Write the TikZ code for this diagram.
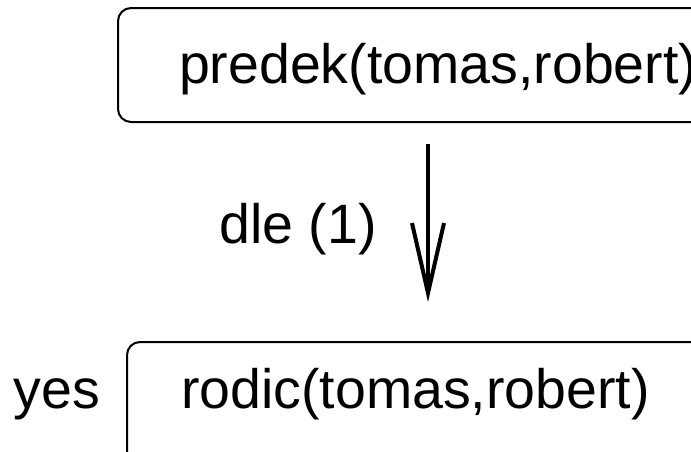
\documentclass[tikz,border=0pt]{standalone}
\usepackage{fontspec}
\setmainfont{Liberation Sans}
\usetikzlibrary{arrows.meta}

\begin{document}
\begin{tikzpicture}[x=1pt,y=-1pt,
    goal/.style={draw,line width=2pt,rounded corners=13pt,
                 inner ysep=0pt,anchor=west},
    big/.style={font=\fontsize{55.5}{60}\selectfont}]
  \useasboundingbox (0,0) rectangle (691,451);
  \clip (0,0) rectangle (691,451);

  %% goals of the proof
  \node (TOP) at (117,65) [goal,big,minimum height=114pt,inner xsep=61pt,
                           text height=44pt,text depth=8pt] {predek(tomas,robert)};
  \node (BOT) at (126,404) [goal,big,minimum height=124pt,inner xsep=54pt,
                            text height=40pt,text depth=32pt] {rodic(tomas,robert)};
  \node (YES) at ([xshift=-26pt]BOT.base west) [anchor=base east,inner sep=0pt,big] {yes};

  %% step by clause (1)
  \coordinate (FROM) at (428,144);
  \coordinate (TO) at (428,302);
  \draw[line width=4pt,-{Straight Barb[length=70pt,width=32pt]}] (FROM) -- (TO);
  \node (RULE) at (377,243) [anchor=base east,inner sep=0pt,big] {dle (1)};

\end{tikzpicture}
\end{document}
